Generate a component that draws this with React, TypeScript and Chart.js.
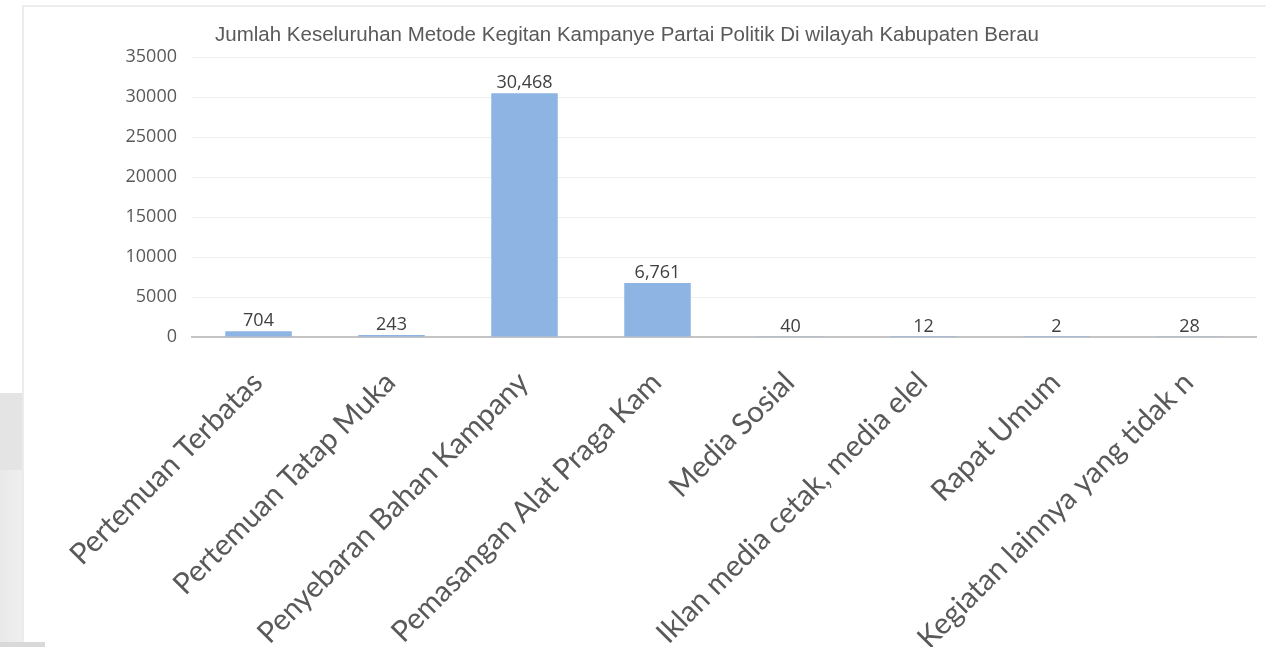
import React, { useEffect, useRef } from "react";
import { Chart, registerables } from "chart.js";

Chart.register(...registerables);

const chartTitle =
  "Jumlah Keseluruhan Metode Kegitan Kampanye Partai Politik Di wilayah Kabupaten Berau";

const categories = [
  "Pertemuan Terbatas",
  "Pertemuan Tatap Muka",
  "Penyebaran Bahan Kampany",
  "Pemasangan Alat Praga Kam",
  "Media Sosial",
  "Iklan media cetak, media elel",
  "Rapat Umum",
  "Kegiatan lainnya yang tidak n",
];

const values = [704, 243, 30468, 6761, 40, 12, 2, 28];

const yMin = 0;
const yMax = 35000;
const yStep = 5000;

const titlePlugin = {
  id: "fixedTitle",
  afterDraw(chart: any) {
    const ctx = chart.ctx;
    ctx.save();
    ctx.font = "20.5px 'Liberation Sans', Arial, sans-serif";
    ctx.fillStyle = "#595959";
    ctx.textAlign = "center";
    ctx.textBaseline = "middle";
    ctx.fillText(chartTitle, 627, 35);
    ctx.restore();
  },
};

const dataLabelPlugin = {
  id: "dataLabels",
  afterDatasetsDraw(chart: any) {
    const ctx = chart.ctx;
    const meta = chart.getDatasetMeta(0);
    ctx.save();
    ctx.font = "18px 'Open Sans', sans-serif";
    ctx.fillStyle = "#404040";
    ctx.textAlign = "center";
    ctx.textBaseline = "alphabetic";
    meta.data.forEach((bar: any, i: number) => {
      const v = chart.data.datasets[0].data[i] as number;
      ctx.fillText(v.toLocaleString("en-US"), bar.x, bar.y - 5);
    });
    ctx.restore();
  },
};

export default function App() {
  const canvasRef = useRef<HTMLCanvasElement | null>(null);

  useEffect(() => {
    if (!canvasRef.current) return;
    const chart = new Chart(canvasRef.current, {
      type: "bar",
      data: {
        labels: categories,
        datasets: [
          {
            data: values,
            backgroundColor: "#8db4e2",
            borderWidth: 0,
            barPercentage: 0.5,
            categoryPercentage: 1,
          },
        ],
      },
      options: {
        animation: false,
        responsive: true,
        maintainAspectRatio: false,
        layout: { padding: { top: 57, right: 10, left: 0, bottom: 0 } },
        plugins: {
          legend: { display: false },
          title: { display: false },
          tooltip: { enabled: false },
        },
        scales: {
          x: {
            offset: true,
            grid: { display: false },
            border: { color: "#c4c4c4", width: 2 },
            ticks: {
              autoSkip: false,
              maxRotation: 45,
              minRotation: 45,
              color: "#595959",
              font: { family: "Lato", size: 29.5 },
              padding: 20,
              labelOffset: -1,
            },
            afterFit: (s: any) => {
              s.height = 310;
            },
          },
          y: {
            min: yMin,
            max: yMax,
            ticks: {
              stepSize: yStep,
              color: "#595959",
              font: { family: "'Open Sans'", size: 18 },
              padding: 15,
              callback: (v: any) => String(v),
            },
            grid: { color: "#efefef", drawTicks: false },
            border: { display: false },
            afterFit: (s: any) => {
              s.width = 192;
            },
          },
        },
      },
      plugins: [titlePlugin, dataLabelPlugin],
    });
    return () => chart.destroy();
  }, []);

  return (
    <div
      style={{
        position: "fixed",
        left: 0,
        top: 0,
        width: 1266,
        height: 647,
        background: "#ffffff",
        overflow: "hidden",
      }}
    >
      <div style={{ position: "absolute", left: 22, top: 5, right: 0, height: 2, background: "#ececec" }} />
      <div style={{ position: "absolute", left: 22, top: 5, width: 2, bottom: 0, background: "#ececec" }} />
      <div style={{ position: "absolute", left: 0, top: 393, width: 22, height: 77, background: "#e4e4e4" }} />
      <div
        style={{
          position: "absolute",
          left: 0,
          top: 470,
          width: 22,
          height: 172,
          background: "linear-gradient(to right, #e9e9e9, #efefef)",
        }}
      />
      <div style={{ position: "absolute", left: 0, top: 642, width: 45, height: 5, background: "#d9d9d9" }} />
      <div style={{ position: "absolute", left: 0, top: 0, width: 1266, height: 647 }}>
        <canvas ref={canvasRef} />
      </div>
    </div>
  );
}
